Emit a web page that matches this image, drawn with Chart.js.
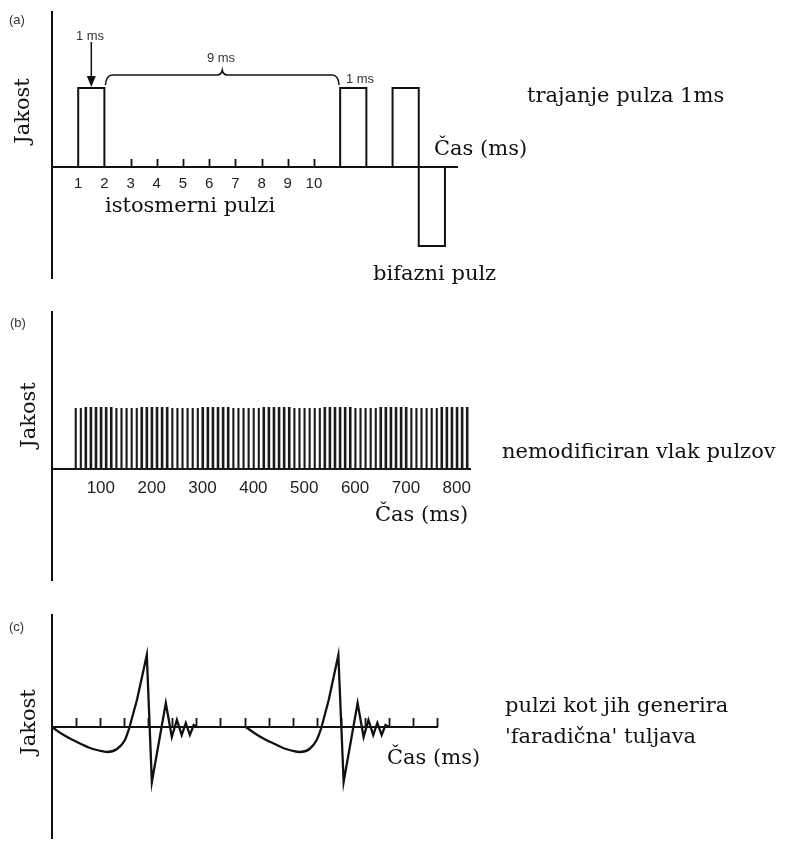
<!DOCTYPE html>
<html><head><meta charset="utf-8">
<script src="https://cdn.jsdelivr.net/npm/chart.js@4.4.1/dist/chart.umd.min.js"></script>
<style>
body{margin:0;background:#fff;}
#wrap{position:relative;width:786px;height:843px;overflow:hidden;background:#fff;}
canvas{position:absolute;left:0;}
.t{position:absolute;font-family:'DejaVu Serif',serif;font-size:21px;color:#111;white-space:nowrap;line-height:21px;}
.s{position:absolute;font-family:'Liberation Sans',Arial,sans-serif;font-size:13px;color:#333;white-space:nowrap;line-height:13px;text-align:center;}
.r{position:absolute;width:90px;height:24px;line-height:24px;text-align:center;transform:rotate(-90deg);font-family:'DejaVu Serif',serif;font-size:21px;color:#111;white-space:nowrap;}
</style></head>
<body><div id="wrap">
<canvas id="ca" width="786" height="300" style="top:0"></canvas>
<canvas id="cb" width="786" height="300" style="top:300px"></canvas>
<canvas id="cc" width="786" height="243" style="top:600px"></canvas>

<div class="s" style="left:9px;top:13px;text-align:left">(a)</div>
<div class="s" style="left:10px;top:316px;text-align:left">(b)</div>
<div class="s" style="left:9px;top:620px;text-align:left">(c)</div>

<div class="r" style="left:-23px;top:99px">Jakost</div>
<div class="r" style="left:-17px;top:403px">Jakost</div>
<div class="r" style="left:-17px;top:710px">Jakost</div>

<div class="s" style="left:60px;top:29px;width:60px">1 ms</div>
<div class="s" style="left:191px;top:51px;width:60px">9 ms</div>
<div class="s" style="left:330px;top:72px;width:60px">1 ms</div>

<div class="t" style="left:527px;top:85px">trajanje pulza 1ms</div>
<div class="t" style="left:434px;top:138px">Čas (ms)</div>
<div class="t" style="left:105px;top:195px">istosmerni pulzi</div>
<div class="t" style="left:373px;top:263px">bifazni pulz</div>
<div class="t" style="left:502px;top:441px">nemodificiran vlak pulzov</div>
<div class="t" style="left:375px;top:504px">Čas (ms)</div>
<div class="t" style="left:387px;top:747px">Čas (ms)</div>
<div class="t" style="left:505px;top:695px">pulzi kot jih generira</div>
<div class="t" style="left:505px;top:726px">'faradična' tuljava</div>
</div>
<script>
// ---------- data (a) ----------
const monoPulseStartsA = [1, 11];
const monoPulseEndsA = [2, 12];
const biphasicTimesA = [13, 14, 15];
const biphasicLevelsA = [1, -1];
const pulseAmplitude = 1;
const tickValuesA = [1, 2, 3, 4, 5, 6, 7, 8, 9, 10];
const tickLabelsA = ['1', '2', '3', '4', '5', '6', '7', '8', '9', '10'];
const tickMarksA = [3, 4, 5, 6, 7, 8, 9, 10];

// ---------- data (b) ----------
const pulseTrainStartsB = [50, 60, 70, 80, 90, 100, 110, 120, 130, 140, 150, 160, 170, 180, 190, 200,
  210, 220, 230, 240, 250, 260, 270, 280, 290, 300, 310, 320, 330, 340, 350, 360, 370, 380, 390, 400,
  410, 420, 430, 440, 450, 460, 470, 480, 490, 500, 510, 520, 530, 540, 550, 560, 570, 580, 590, 600,
  610, 620, 630, 640, 650, 660, 670, 680, 690, 700, 710, 720, 730, 740, 750, 760, 770, 780, 790, 800,
  810, 820];
const pulseWidthB = 1;
const tickValuesB = [100, 200, 300, 400, 500, 600, 700, 800];
const tickLabelsB = ['100', '200', '300', '400', '500', '600', '700', '800'];

// ---------- data (c) ----------
const faradicDip1 = [[0, 0], [0.45, -0.75], [0.87, -1.3], [1.25, -1.75], [1.58, -2.1], [1.95, -2.35], [2.28, -2.5], [2.7, -2.2], [3.03, -1.3], [3.2, -0.2]];
const faradicSpike1 = [[3.2, -0.2], [3.53, 2.7], [3.94, 7.2], [4.15, -5.5], [4.73, 2.4], [4.98, -1.0], [5.19, 0.7], [5.39, -0.8], [5.56, 0.4], [5.73, -0.8], [5.89, 0.2], [6.02, 0]];
const faradicDip2 = [[8.05, 0], [8.5, -0.75], [8.9, -1.3], [9.3, -1.75], [9.6, -2.1], [9.95, -2.35], [10.3, -2.5], [10.7, -2.2], [11.0, -1.3], [11.18, -0.2]];
const faradicSpike2 = [[11.18, -0.2], [11.5, 2.7], [11.9, 7.2], [12.12, -5.5], [12.7, 2.4], [12.95, -1.0], [13.15, 0.7], [13.35, -0.8], [13.52, 0.4], [13.7, -0.8], [13.86, 0.2], [14.0, 0]];
const tickMarksC = [1, 2, 3, 4, 5, 6, 7, 8, 9, 10, 11, 12, 13, 14, 15, 16];

// ---------- helpers ----------
const INK = '#111';
const pts = arr => arr.map(p => ({x: p[0], y: p[1]}));
function lineDs(data, extra) {
  return Object.assign({data, borderColor: INK, borderWidth: 2, pointRadius: 0, tension: 0, fill: false}, extra || {});
}
function upTicks(id, values, len) {
  return {
    id,
    afterDatasetsDraw(chart) {
      const {ctx, scales: {x, y}} = chart;
      const y0 = y.getPixelForValue(0);
      ctx.save();
      ctx.strokeStyle = INK; ctx.lineWidth = 1.8;
      values.forEach(v => {
        const px = Math.round(x.getPixelForValue(v)) + 0.5;
        ctx.beginPath(); ctx.moveTo(px, y0); ctx.lineTo(px, y0 - len); ctx.stroke();
      });
      ctx.restore();
    }
  };
}
function baseOpts(padding, xScale, yMin, yMax) {
  return {
    responsive: false, animation: false, events: [],
    layout: {padding},
    plugins: {legend: {display: false}, tooltip: {enabled: false}},
    scales: {
      x: Object.assign({type: 'linear', position: {y: 0}, grid: {display: false},
        border: {display: true, color: INK, width: 2}}, xScale),
      y: {type: 'linear', min: yMin, max: yMax, grid: {display: false},
        border: {display: true, color: INK, width: 2}, ticks: {display: false}}
    }
  };
}

// ---------- chart (a) ----------
const dsA = [];
monoPulseStartsA.forEach((s, i) => {
  const e = monoPulseEndsA[i];
  dsA.push(lineDs([{x: s, y: 0}, {x: s, y: pulseAmplitude}, {x: e, y: pulseAmplitude}, {x: e, y: 0}]));
});
const bp = [{x: biphasicTimesA[0], y: 0}];
biphasicLevelsA.forEach((lv, i) => {
  bp.push({x: biphasicTimesA[i], y: lv});
  bp.push({x: biphasicTimesA[i + 1], y: lv});
});
bp.push({x: biphasicTimesA[biphasicTimesA.length - 1], y: 0});
dsA.push(lineDs(bp));

const annotA = {
  id: 'annotA',
  afterDatasetsDraw(chart) {
    const {ctx, scales: {x, y}} = chart;
    const top = y.getPixelForValue(pulseAmplitude);
    ctx.save();
    ctx.strokeStyle = INK; ctx.fillStyle = INK; ctx.lineWidth = 1.5;
    const ax = x.getPixelForValue((monoPulseStartsA[0] + monoPulseEndsA[0]) / 2);
    ctx.beginPath(); ctx.moveTo(ax, top - 46); ctx.lineTo(ax, top - 10); ctx.stroke();
    ctx.beginPath(); ctx.moveTo(ax - 4.5, top - 12); ctx.lineTo(ax + 4.5, top - 12); ctx.lineTo(ax, top - 1); ctx.closePath(); ctx.fill();
    const bx1 = x.getPixelForValue(monoPulseEndsA[0]), bx2 = x.getPixelForValue(monoPulseStartsA[1]);
    const by = top - 13, mid = (bx1 + bx2) / 2;
    ctx.beginPath();
    ctx.moveTo(bx1 + 1, top - 3);
    ctx.quadraticCurveTo(bx1 + 2, by, bx1 + 8, by);
    ctx.lineTo(mid - 5, by);
    ctx.quadraticCurveTo(mid - 1, by, mid, by - 5);
    ctx.quadraticCurveTo(mid + 1, by, mid + 5, by);
    ctx.lineTo(bx2 - 8, by);
    ctx.quadraticCurveTo(bx2 - 2, by, bx2 - 1, top - 3);
    ctx.stroke();
    ctx.restore();
  }
};

new Chart(document.getElementById('ca'), {
  type: 'line',
  data: {datasets: dsA},
  options: baseOpts({left: 44, right: 329, top: 12, bottom: 22}, {
    min: 0, max: 15.46,
    afterBuildTicks: s => { s.ticks = tickValuesA.map(v => ({value: v})); },
    ticks: {autoSkip: false, maxRotation: 0, padding: 0, color: '#222',
      font: {family: 'Liberation Sans', size: 15},
      callback: v => tickLabelsA[tickValuesA.indexOf(v)]}
  }, -1.405, 1.962),
  plugins: [annotA, upTicks('ticksA', tickMarksA, 8)]
});

// ---------- chart (b) ----------
const trainPts = [];
pulseTrainStartsB.forEach(s => {
  trainPts.push({x: s, y: 0}, {x: s, y: pulseAmplitude}, {x: s + pulseWidthB, y: pulseAmplitude}, {x: s + pulseWidthB, y: 0});
});
new Chart(document.getElementById('cb'), {
  type: 'line',
  data: {datasets: [lineDs(trainPts, {borderWidth: 2.1, borderColor: '#1a1a1a'})]},
  options: baseOpts({left: 44, right: 316, top: 12, bottom: 20}, {
    min: 4, max: 826,
    afterBuildTicks: s => { s.ticks = tickValuesB.map(v => ({value: v})); },
    ticks: {autoSkip: false, maxRotation: 0, padding: 1, color: '#222',
      font: {family: 'Liberation Sans', size: 17},
      callback: v => tickLabelsB[tickValuesB.indexOf(v)]}
  }, -1.82, 2.574)
});

// ---------- chart (c) ----------
new Chart(document.getElementById('cc'), {
  type: 'line',
  data: {datasets: [
    lineDs(pts(faradicDip1), {cubicInterpolationMode: 'monotone', borderWidth: 2.3}),
    lineDs(pts(faradicSpike1), {borderWidth: 2.3}),
    lineDs(pts(faradicDip2), {cubicInterpolationMode: 'monotone', borderWidth: 2.3}),
    lineDs(pts(faradicSpike2), {borderWidth: 2.3})
  ]},
  options: baseOpts({left: 44, right: 349, top: 15, bottom: 5}, {
    min: 0, max: 16, ticks: {display: false}
  }, -11.1, 11.2),
  plugins: [upTicks('ticksC', tickMarksC, 9)]
});
</script>
</body></html>
